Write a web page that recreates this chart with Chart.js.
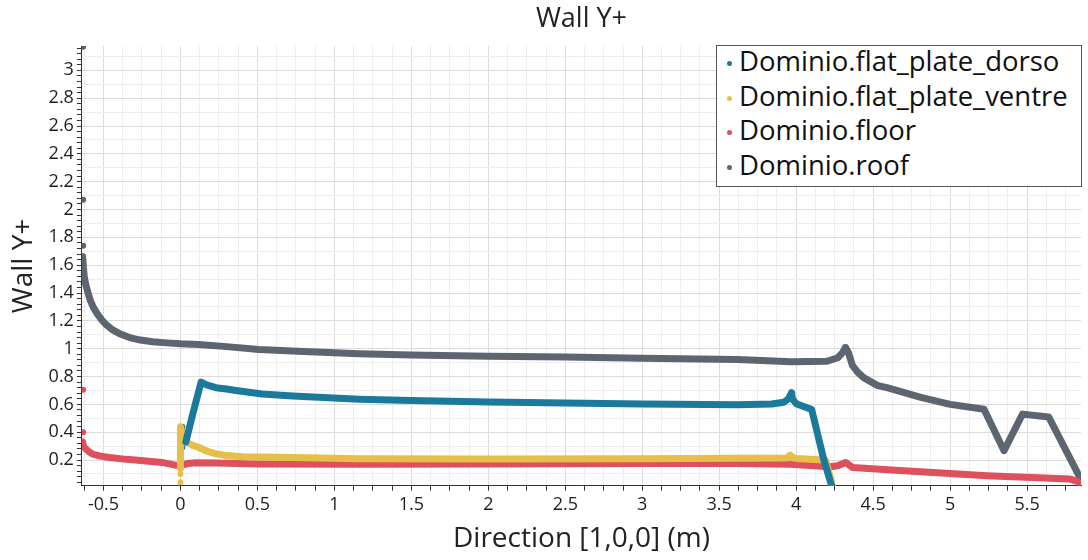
<!DOCTYPE html>
<html>
<head>
<meta charset="utf-8">
<title>Wall Y+</title>
<script src="https://cdn.jsdelivr.net/npm/chart.js@4.4.1/dist/chart.umd.min.js"></script>
<style>
  html, body { margin: 0; padding: 0; background: #fff; }
  #wrap { position: relative; width: 1088px; height: 560px; }
  #legend_box {
    position: absolute; left: 716px; top: 45px; width: 366px; height: 142px;
    border: 1px solid #555; background: #fff; box-sizing: border-box;
    font-family: 'Open Sans', sans-serif; font-size: 27.5px; color: #111;
    overflow: hidden;
  }
  .legend_row { position: relative; top: -2px; height: 34.5px; line-height: 34.5px; white-space: nowrap; }
  .legend_dot {
    display: inline-block; width: 5px; height: 5px; border-radius: 50%;
    margin: 0 7px 0 10px; vertical-align: middle;
  }
</style>
</head>
<body>
<div id="wrap">
  <canvas id="wallchart"></canvas>
  <div id="legend_box"></div>
</div>
<script>
'use strict';
//** Data */

let seriesnames = ['Dominio.flat_plate_dorso', 'Dominio.flat_plate_ventre', 'Dominio.floor', 'Dominio.roof'];
let seriescolors = ['#1b7a9c', '#e6bf4a', '#de505c', '#5d6670'];

let dorsox = [0.035, 0.08, 0.134, 0.17, 0.23, 0.30, 0.36, 0.53, 0.73, 1.16, 1.5, 2.0, 2.5, 3.0, 3.62, 3.84, 3.92, 3.95, 3.97, 3.975, 4.0, 4.07, 4.10, 4.18, 4.23];
let dorsoy = [0.33, 0.53, 0.76, 0.74, 0.72, 0.71, 0.70, 0.675, 0.66, 0.637, 0.627, 0.618, 0.61, 0.603, 0.597, 0.603, 0.615, 0.64, 0.685, 0.64, 0.605, 0.575, 0.565, 0.2, 0.015];

let ventrex = [0.0, 0.0, 0.015, 0.035, 0.08, 0.12, 0.17, 0.23, 0.30, 0.40, 0.73, 1.16, 2.0, 3.0, 3.62, 3.94, 3.96, 3.98, 4.0, 4.19, 4.225, 4.235];
let ventrey = [0.14, 0.44, 0.37, 0.33, 0.305, 0.29, 0.265, 0.245, 0.232, 0.224, 0.218, 0.21, 0.207, 0.21, 0.213, 0.215, 0.235, 0.215, 0.212, 0.2, 0.06, 0.015];

let floorx = [-0.635, -0.63, -0.615, -0.60, -0.57, -0.52, -0.46, -0.35, -0.24, -0.12, -0.02, 0.015, 0.05, 0.10, 0.23, 0.51, 1.16, 2.0, 3.0, 3.62, 3.96, 4.22, 4.27, 4.32, 4.365, 4.70, 5.24, 5.78, 5.83, 5.845];
let floory = [0.33, 0.30, 0.28, 0.265, 0.242, 0.228, 0.218, 0.205, 0.195, 0.183, 0.16, 0.166, 0.175, 0.18, 0.178, 0.172, 0.17, 0.172, 0.175, 0.175, 0.17, 0.152, 0.159, 0.183, 0.147, 0.123, 0.087, 0.063, 0.045, 0.03];

let roofx = [-0.635, -0.63, -0.625, -0.615, -0.60, -0.585, -0.565, -0.54, -0.51, -0.48, -0.44, -0.39, -0.33, -0.26, -0.18, -0.09, 0, 0.12, 0.3, 0.51, 0.8, 1.16, 1.5, 2.0, 2.5, 3.0, 3.62, 3.97, 4.20, 4.27, 4.30, 4.32, 4.34, 4.365, 4.40, 4.44, 4.53, 4.59, 4.81, 5.00, 5.22, 5.35, 5.47, 5.64, 5.845];
let roofy = [1.66, 1.58, 1.52, 1.46, 1.40, 1.345, 1.295, 1.25, 1.205, 1.17, 1.135, 1.105, 1.08, 1.062, 1.05, 1.042, 1.035, 1.03, 1.015, 0.995, 0.98, 0.964, 0.955, 0.945, 0.94, 0.932, 0.923, 0.907, 0.91, 0.935, 0.97, 1.01, 0.97, 0.88, 0.83, 0.79, 0.735, 0.72, 0.65, 0.60, 0.565, 0.267, 0.53, 0.51, 0.07];

// loose points that are not on the curves
let dorsodotsx = [0.012, 0.012, 0.012, 0.012, 0.012, 0.012];
let dorsodotsy = [0.44, 0.41, 0.38, 0.35, 0.32, 0.29];
let ventredotsx = [0.0, 0.0];
let ventredotsy = [0.04, 0.10];
let floordotsx = [-0.632, -0.632];
let floordotsy = [0.705, 0.40];
let roofdotsx = [-0.632, -0.632, -0.632];
let roofdotsy = [3.17, 2.07, 1.74];

// axis range and tick steps
let xmin = -0.64;
let xmax = 5.85;
let ymin = 0.015;
let ymax = 3.175;
let xstep = 0.125;
let ystep = 0.02;

//** Helpers */

function makepoints(xs, ys){
  let pts = [];
  for (let i = 0; i < xs.length; i++){
    pts.push({x: xs[i], y: ys[i]});
  }
  return pts;
}

function linedataset(i, xs, ys){
  return {
    label: seriesnames[i],
    data: makepoints(xs, ys),
    showLine: true,
    borderColor: seriescolors[i],
    backgroundColor: seriescolors[i],
    borderWidth: 7,
    borderJoinStyle: 'round',
    borderCapStyle: 'round',
    pointRadius: 0,
    pointHoverRadius: 0
  };
}

function dotdataset(i, xs, ys){
  return {
    label: seriesnames[i] + ' dots',
    data: makepoints(xs, ys),
    showLine: false,
    pointRadius: 3,
    pointBorderWidth: 0,
    pointBackgroundColor: seriescolors[i],
    backgroundColor: seriescolors[i]
  };
}

function stepindex(value, step){
  return Math.round(value / step);
}

function mod(a, b){
  return ((a % b) + b) % b;
}

//** Legend */

let legendbox = document.getElementById('legend_box');
for (let i = 0; i < seriesnames.length; i++){
  let row = document.createElement('div');
  row.className = 'legend_row';
  let dot = document.createElement('span');
  dot.className = 'legend_dot';
  dot.style.background = seriescolors[i];
  row.appendChild(dot);
  row.appendChild(document.createTextNode(seriesnames[i]));
  legendbox.appendChild(row);
}

//** Chart */

let titleplugin = {
  id: 'centertitle',
  afterDraw(chart){
    let c = chart.ctx;
    let area = chart.chartArea;
    c.save();
    c.font = '27px "Open Sans"';
    c.fillStyle = '#222';
    c.textAlign = 'center';
    c.textBaseline = 'middle';
    c.fillText('Wall Y+', (area.left + area.right) / 2, 19);
    c.restore();
  }
};

let ctx = document.getElementById('wallchart');

let chartObj = {
  type: 'scatter',
  data: {
    datasets: [
      linedataset(0, dorsox, dorsoy),
      linedataset(1, ventrex, ventrey),
      linedataset(2, floorx, floory),
      linedataset(3, roofx, roofy),
      dotdataset(0, dorsodotsx, dorsodotsy),
      dotdataset(1, ventredotsx, ventredotsy),
      dotdataset(2, floordotsx, floordotsy),
      dotdataset(3, roofdotsx, roofdotsy)
    ]
  },
  options: {
    responsive: true,
    maintainAspectRatio: false,
    animation: false,
    events: [],
    layout: {
      padding: {top: 46, right: 7, bottom: 2, left: 3}
    },
    plugins: {
      legend: {display: false},
      tooltip: {enabled: false},
      title: {display: false}
    },
    scales: {
      x: {
        type: 'linear',
        min: xmin,
        max: xmax,
        afterBuildTicks: (scale) => {
          let t = [];
          for (let k = Math.ceil(xmin / xstep); k <= Math.floor(xmax / xstep); k++){
            t.push({value: k * xstep});
          }
          scale.ticks = t;
        },
        ticks: {
          autoSkip: false,
          maxRotation: 0,
          minRotation: 0,
          padding: 3,
          color: '#1e1e1e',
          font: {family: 'Open Sans', size: 18},
          callback: (value) => {
            if (mod(stepindex(value, xstep), 4) !== 0){
              return '';
            }
            return String(Math.round(value * 10) / 10);
          }
        },
        grid: {
          color: (c) => mod(stepindex(c.tick.value, xstep), 4) === 0 ? '#dcdcdc' : '#eeeeee',
          tickColor: '#333',
          tickLength: 5
        },
        border: {color: '#333', width: 1},
        title: {
          display: true,
          text: 'Direction [1,0,0] (m)',
          color: '#222',
          font: {family: 'Open Sans', size: 28},
          padding: {top: 4, bottom: 2}
        }
      },
      y: {
        type: 'linear',
        min: ymin,
        max: ymax,
        afterBuildTicks: (scale) => {
          let t = [];
          for (let k = Math.ceil(ymin / ystep); k <= Math.floor(ymax / ystep); k++){
            t.push({value: k * ystep});
          }
          scale.ticks = t;
        },
        ticks: {
          autoSkip: false,
          padding: 3,
          color: '#1e1e1e',
          font: {family: 'Open Sans', size: 18},
          callback: (value) => {
            if (mod(stepindex(value, ystep), 10) !== 0){
              return '';
            }
            return String(Math.round(value * 10) / 10);
          }
        },
        grid: {
          color: (c) => {
            let k = stepindex(c.tick.value, ystep);
            if (mod(k, 10) === 0) return '#dcdcdc';
            if (mod(k, 5) === 0) return '#eeeeee';
            return 'rgba(0,0,0,0)';
          },
          tickColor: (c) => mod(stepindex(c.tick.value, ystep), 2) === 0 ? '#333' : 'rgba(0,0,0,0)',
          tickLength: 5
        },
        border: {color: '#333', width: 1},
        title: {
          display: true,
          text: 'Wall Y+',
          color: '#222',
          font: {family: 'Open Sans', size: 28},
          padding: {top: 4, bottom: 5}
        }
      }
    }
  },
  plugins: [titleplugin]
};

let wallchart = new Chart(ctx, chartObj);
</script>
</body>
</html>
